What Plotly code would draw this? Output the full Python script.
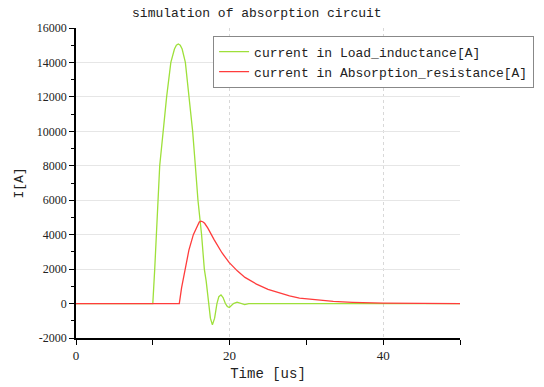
import plotly.graph_objects as go

# ---- data ----
t_load = [0, 10.0, 10.25, 10.45, 10.65, 10.9, 11.35, 11.8, 12.35, 12.82, 13.07, 13.32,
          13.57, 13.82, 14.24, 14.76, 15.19, 15.54, 15.88, 16.35, 16.71, 16.95, 17.25,
          17.5, 17.76, 18.05, 18.35, 18.6, 18.88, 19.15, 19.45, 19.7, 19.97, 20.25,
          20.5, 20.97, 21.45, 21.97, 22.5, 23.1, 24.0, 50]
i_load = [0, 0, 2000, 4000, 6000, 8000, 10000, 12000, 14000, 14780, 15000, 15070,
          15000, 14780, 14000, 12000, 10000, 8000, 6000, 4000, 2000, 1300, 0,
          -850, -1240, -850, 0, 400, 507, 350, 0, -170, -233, -130,
          0, 80, 0, -60, 0, 15, 0, 0]

t_abs = [0, 13.45, 13.75, 14.19, 14.7, 15.28, 15.8, 16.05, 16.27, 16.5, 16.75, 17.15,
         18.0, 19.0, 19.93, 21.0, 22.0, 23.5, 25.0, 26.5, 27.8, 29.1, 31.5, 33.5,
         36.0, 38.0, 40.0, 45.0, 50]
i_abs = [0, 0, 930, 2000, 3100, 4000, 4550, 4730, 4780, 4750, 4660, 4390,
         3700, 2950, 2390, 1900, 1520, 1130, 820, 610, 450, 320, 200, 125,
         70, 40, 20, 5, 0]

names = ["current in Load_inductance[A]", "current in Absorption_resistance[A]"]
colors = ["#9ee03a", "#ff3c3c"]

y_ticks = list(range(-2000, 16001, 2000))
y_text = [str(v) for v in y_ticks]
x_major = [0, 20, 40]
x_minor = [10, 30, 50]

mono = "Liberation Mono"
serif = "Liberation Serif"

fig = go.Figure()
fig.add_trace(go.Scatter(x=t_load, y=i_load, mode="lines", name=names[0],
                         line=dict(color=colors[0], width=1.3)))
fig.add_trace(go.Scatter(x=t_abs, y=i_abs, mode="lines", name=names[1],
                         line=dict(color=colors[1], width=1.3)))

fig.update_layout(
    width=544, height=387,
    margin=dict(l=76, r=84, t=28, b=49, autoexpand=False),
    paper_bgcolor="white", plot_bgcolor="white",
    title=dict(text="simulation of absorption circuit", x=0.471, xref="paper",
               xanchor="center", y=0.969, yanchor="middle",
               font=dict(family=mono, size=13, color="#222")),
    legend=dict(x=0.357, xref="paper", xanchor="left", y=0.975, yanchor="top",
                bgcolor="white", bordercolor="#888", borderwidth=1,
                font=dict(family=mono, size=13, color="#222"),
                itemwidth=30, tracegroupgap=0),
    xaxis=dict(range=[0, 50], tickvals=x_major, ticktext=[str(v) for v in x_major],
               automargin=False,
               ticks="outside", ticklen=5, tickcolor="black",
               showline=True, linecolor="black", linewidth=1.5,
               showgrid=True, gridcolor="#d8d8d8", griddash="dot", gridwidth=1,
               zeroline=False,
               minor=dict(tickvals=x_minor, ticks="outside", ticklen=5,
                          tickcolor="black", showgrid=False),
               tickfont=dict(family=serif, size=13, color="#222"),
               title=dict(text="Time [us]", font=dict(family=mono, size=14, color="#222"),
                          standoff=6)),
    yaxis=dict(range=[-2000, 16000], tickvals=y_ticks, ticktext=y_text,
               automargin=False,
               ticks="outside", ticklen=5, tickcolor="black",
               showline=True, linecolor="black", linewidth=1.5,
               showgrid=True, gridcolor="#e6e6e6", gridwidth=1,
               zeroline=False,
               minor=dict(dtick=1000, ticks="outside", ticklen=3,
                          tickcolor="black", showgrid=False),
               tickfont=dict(family=serif, size=12, color="#222"),
               title=dict(text="I[A]", font=dict(family=mono, size=13, color="#222"),
                          standoff=10)),
)

fig.write_html("out.html", config={"displayModeBar": False},
               post_script="document.body.style.margin='0';"
                           "document.body.style.overflow='hidden';")
